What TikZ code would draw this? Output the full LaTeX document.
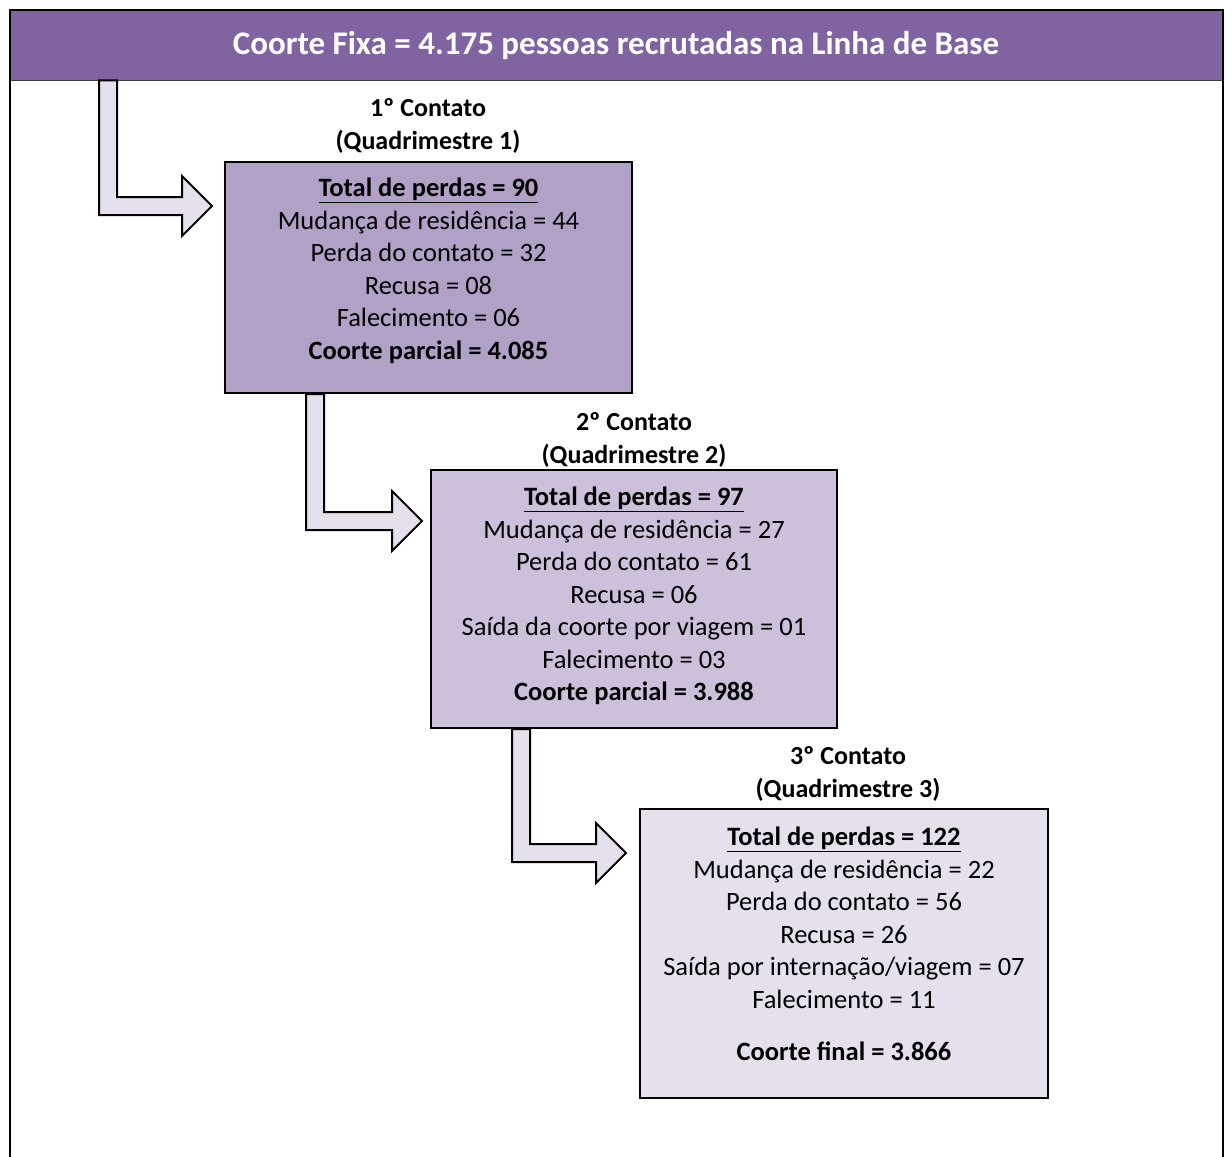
\documentclass[tikz,border=0pt]{standalone}
\usepackage{fontspec}
\setmainfont{Carlito}
\usetikzlibrary{calc}
\definecolor{hdrpurple}{HTML}{8064A2}
\definecolor{boxA}{HTML}{B2A1C7}
\definecolor{boxB}{HTML}{CCC0DA}
\definecolor{boxC}{HTML}{E5E0EC}
\tikzset{
  stagebox/.style={draw=black, line width=2pt, minimum width=#1, inner sep=0pt},
  bodytext/.style={align=center, inner sep=0pt, anchor=north, font=\fontsize{26.5}{32.5}\selectfont},
  labeltext/.style={align=center, inner sep=0pt, anchor=north, font=\fontsize{26}{33}\selectfont\bfseries},
  blockarrow/.style={draw=black, line width=2pt, fill=boxC, line join=miter},
}
\begin{document}
\begin{tikzpicture}[x=1pt,y=-1pt]
\useasboundingbox (0,0) rectangle (1225,1156);
% outer frame and header
\node[fill=hdrpurple, minimum width=1213, minimum height=70, inner sep=0pt, anchor=north west] (hdr) at (10,10) {};
\draw[line width=1.5pt, black!75] (hdr.south west) -- (hdr.south east);
\draw[line width=2.5pt, black] (10,1160) -- (10,10) -- (1223,10) -- (1223,1160);
\node[text=white, font=\fontsize{33}{36}\selectfont\bfseries, inner sep=0pt] (title) at (616,46) {Coorte Fixa = 4.175 pessoas recrutadas na Linha de Base};

% boxes
\node[stagebox=407, minimum height=231, fill=boxA] (b1) at (428.5,277.5) {};
\node[stagebox=406, minimum height=258, fill=boxB] (b2) at (634,599) {};
\node[stagebox=408, minimum height=289, fill=boxC] (b3) at (844,953.5) {};

% labels above boxes
\node[labeltext] (l1) at (428,98) {1º Contato\\(Quadrimestre 1)};
\node[labeltext] (l2) at (634,412) {2º Contato\\(Quadrimestre 2)};
\node[labeltext] (l3) at (848,746) {3º Contato\\(Quadrimestre 3)};

% box texts
\node[bodytext] (t1) at ($(b1.north)+(0,17)$) {\textbf{\underline{Total de perdas = 90}}\\
Mudança de residência = 44\\ Perda do contato = 32\\ Recusa = 08\\ Falecimento = 06\\
\textbf{Coorte parcial = 4.085}};
\node[bodytext] (t2) at ($(b2.north)+(0,18)$) {\textbf{\underline{Total de perdas = 97}}\\
Mudança de residência = 27\\ Perda do contato = 61\\ Recusa = 06\\ Saída da coorte por viagem = 01\\ Falecimento = 03\\
\textbf{Coorte parcial = 3.988}};
\node[bodytext] (t3) at ($(b3.north)+(0,19)$) {\textbf{\underline{Total de perdas = 122}}\\
Mudança de residência = 22\\ Perda do contato = 56\\ Recusa = 26\\ Saída por internação/viagem = 07\\ Falecimento = 11\\[20pt]
\textbf{Coorte final = 3.866}};

% arrow start points and tips
\coordinate (s1) at ($(hdr.south west)+(98,0)$);
\coordinate (e1) at ($(b1.north west)+(-12,45)$);
\coordinate (s2) at ($(b1.south west)+(91,0)$);
\coordinate (e2) at ($(b2.north west)+(-8,52)$);
\coordinate (s3) at ($(b2.south west)+(91,0)$);
\coordinate (e3) at ($(b3.north west)+(-13,45)$);

\foreach \s/\e in {s1/e1, s2/e2, s3/e3}{
  \draw[blockarrow] ($(\s)+(-9,0)$) -- ($(\s|-\e)+(-9,9)$) -- ($(\e)+(-30,9)$) -- ($(\e)+(-30,30)$)
    -- (\e) -- ($(\e)+(-30,-30)$) -- ($(\e)+(-30,-9)$) -- ($(\s|-\e)+(9,-9)$) -- ($(\s)+(9,0)$) -- cycle;
}
\end{tikzpicture}
\end{document}
